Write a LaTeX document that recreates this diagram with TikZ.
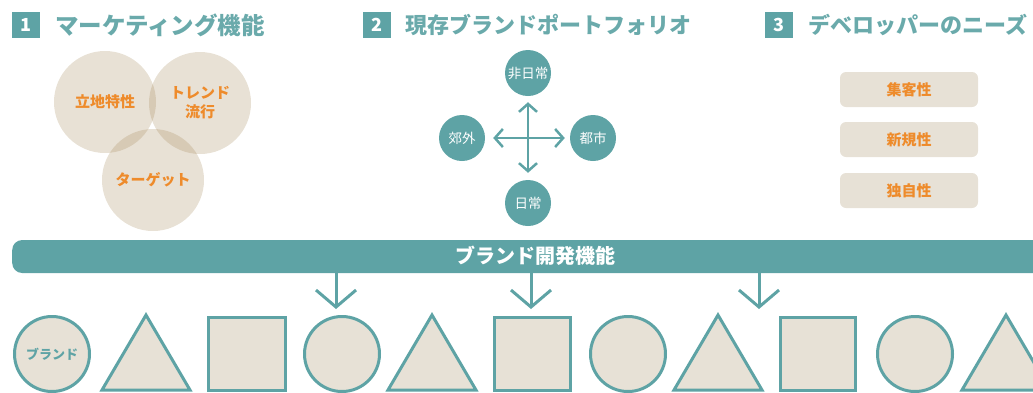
\documentclass[tikz,border=0pt]{standalone}
\usepackage{fontspec}
\newfontfamily\jp{Noto Sans CJK JP}
\usetikzlibrary{arrows.meta}
\definecolor{tl}{HTML}{5EA3A5}
\definecolor{hdr}{HTML}{6AAAAB}
\definecolor{bg}{HTML}{E7E1D6}
\definecolor{org}{HTML}{EE8B2B}
\definecolor{venn}{RGB}{163,135,87}
\begin{document}
\begin{tikzpicture}[x=1pt,y=-1pt,font=\jp,
  icon/.style={fill=tl,minimum width=28pt,minimum height=26pt,inner sep=0pt,text=white,font=\jp\bfseries\fontsize{18}{18}\selectfont},
  hdr/.style={anchor=west,text=hdr,inner sep=0pt},
  venncirc/.style={circle,fill=venn,fill opacity=0.25,text opacity=1,minimum size=102pt,inner sep=0pt,text=org,font=\jp\bfseries\fontsize{15}{19}\selectfont,align=center},
  pcirc/.style={circle,fill=tl,minimum size=46pt,inner sep=0pt,text=white,font=\jp\fontsize{13.5}{13.5}\selectfont},
  need/.style={rounded corners=6pt,fill=bg,minimum width=138pt,minimum height=35pt,inner sep=0pt,text=org,font=\jp\bfseries\fontsize{15}{15}\selectfont},
  shp/.style={draw=tl,line width=3pt,fill=bg},
  parr/.style={draw=tl,line width=2.5pt,{Straight Barb[length=8pt,width=18pt]}-{Straight Barb[length=8pt,width=18pt]}},
  darr/.style={draw=tl,line width=3pt,-{Straight Barb[length=17pt,width=40pt]}},
]
\useasboundingbox (0,0) rectangle (1033,392);

% headers
\node[icon] (i1) at (26,25) {1};
\node[hdr,font=\jp\bfseries\fontsize{23.5}{23.5}\selectfont] (h1) at (55,25) {マーケティング機能};
\node[icon] (i2) at (377,25) {2};
\node[hdr,font=\jp\bfseries\fontsize{22}{22}\selectfont] (h2) at (405,25) {現存ブランドポートフォリオ};
\node[icon] (i3) at (779,25) {3};
\node[hdr,font=\jp\bfseries\fontsize{22}{22}\selectfont] (h3) at (808,25) {デベロッパーのニーズ};

% venn
\node[venncirc] (v1) at (105,102) {立地特性};
\node[venncirc] (v2) at (200,103) {トレンド\\流行};
\node[venncirc] (v3) at (153,180) {ターゲット};

% portfolio
\node[pcirc] (pt) at (528,73) {非日常};
\node[pcirc] (pb) at (528,203) {日常};
\node[pcirc] (pl) at (462,138) {郊外};
\node[pcirc] (pr) at (593,138) {都市};
\draw[parr,shorten <=6pt,shorten >=7pt] (pt) -- (pb);
\draw[parr,shorten <=8pt,shorten >=5pt] (pl) -- (pr);

% needs
\node[need] (n1) at (909,89.5) {集客性};
\node[need] (n2) at (909,139.5) {新規性};
\node[need] (n3) at (909,190.5) {独自性};

% bar
\node[fill=tl,rounded corners=10pt,minimum width=1046pt,minimum height=33pt,inner sep=0pt,anchor=west] (bar) at (12,256.5) {};
\node[text=white,font=\jp\bfseries\fontsize{20}{20}\selectfont,inner sep=0pt] (bt) at (535,256) {ブランド開発機能};

% down arrows
\coordinate (t1) at (336,309);
\coordinate (t2) at (531,309);
\coordinate (t3) at (759,309);
\draw[darr] (bar.south -| t1) -- (t1);
\draw[darr] (bar.south -| t2) -- (t2);
\draw[darr] (bar.south -| t3) -- (t3);

% shapes row
\node[shp,circle,minimum size=75pt,inner sep=0pt,text=tl,font=\jp\bfseries\fontsize{13}{13}\selectfont] (c1) at (52,354) {ブランド};
\draw[shp] (146,315) -- (190,390) -- (102,390) -- cycle;
\draw[shp] (208,317) rectangle (285,390);
\node[shp,circle,minimum size=75pt,inner sep=0pt] (c2) at (342,354) {};
\draw[shp] (432,315) -- (476,390) -- (388,390) -- cycle;
\draw[shp] (494,317) rectangle (570,390);
\node[shp,circle,minimum size=75pt,inner sep=0pt] (c3) at (628,354) {};
\draw[shp] (718,315) -- (762,390) -- (674,390) -- cycle;
\draw[shp] (780,317) rectangle (855,390);
\node[shp,circle,minimum size=75pt,inner sep=0pt] (c4) at (915,354) {};
\draw[shp] (1006,315) -- (1050,390) -- (962,390) -- cycle;
\end{tikzpicture}
\end{document}
